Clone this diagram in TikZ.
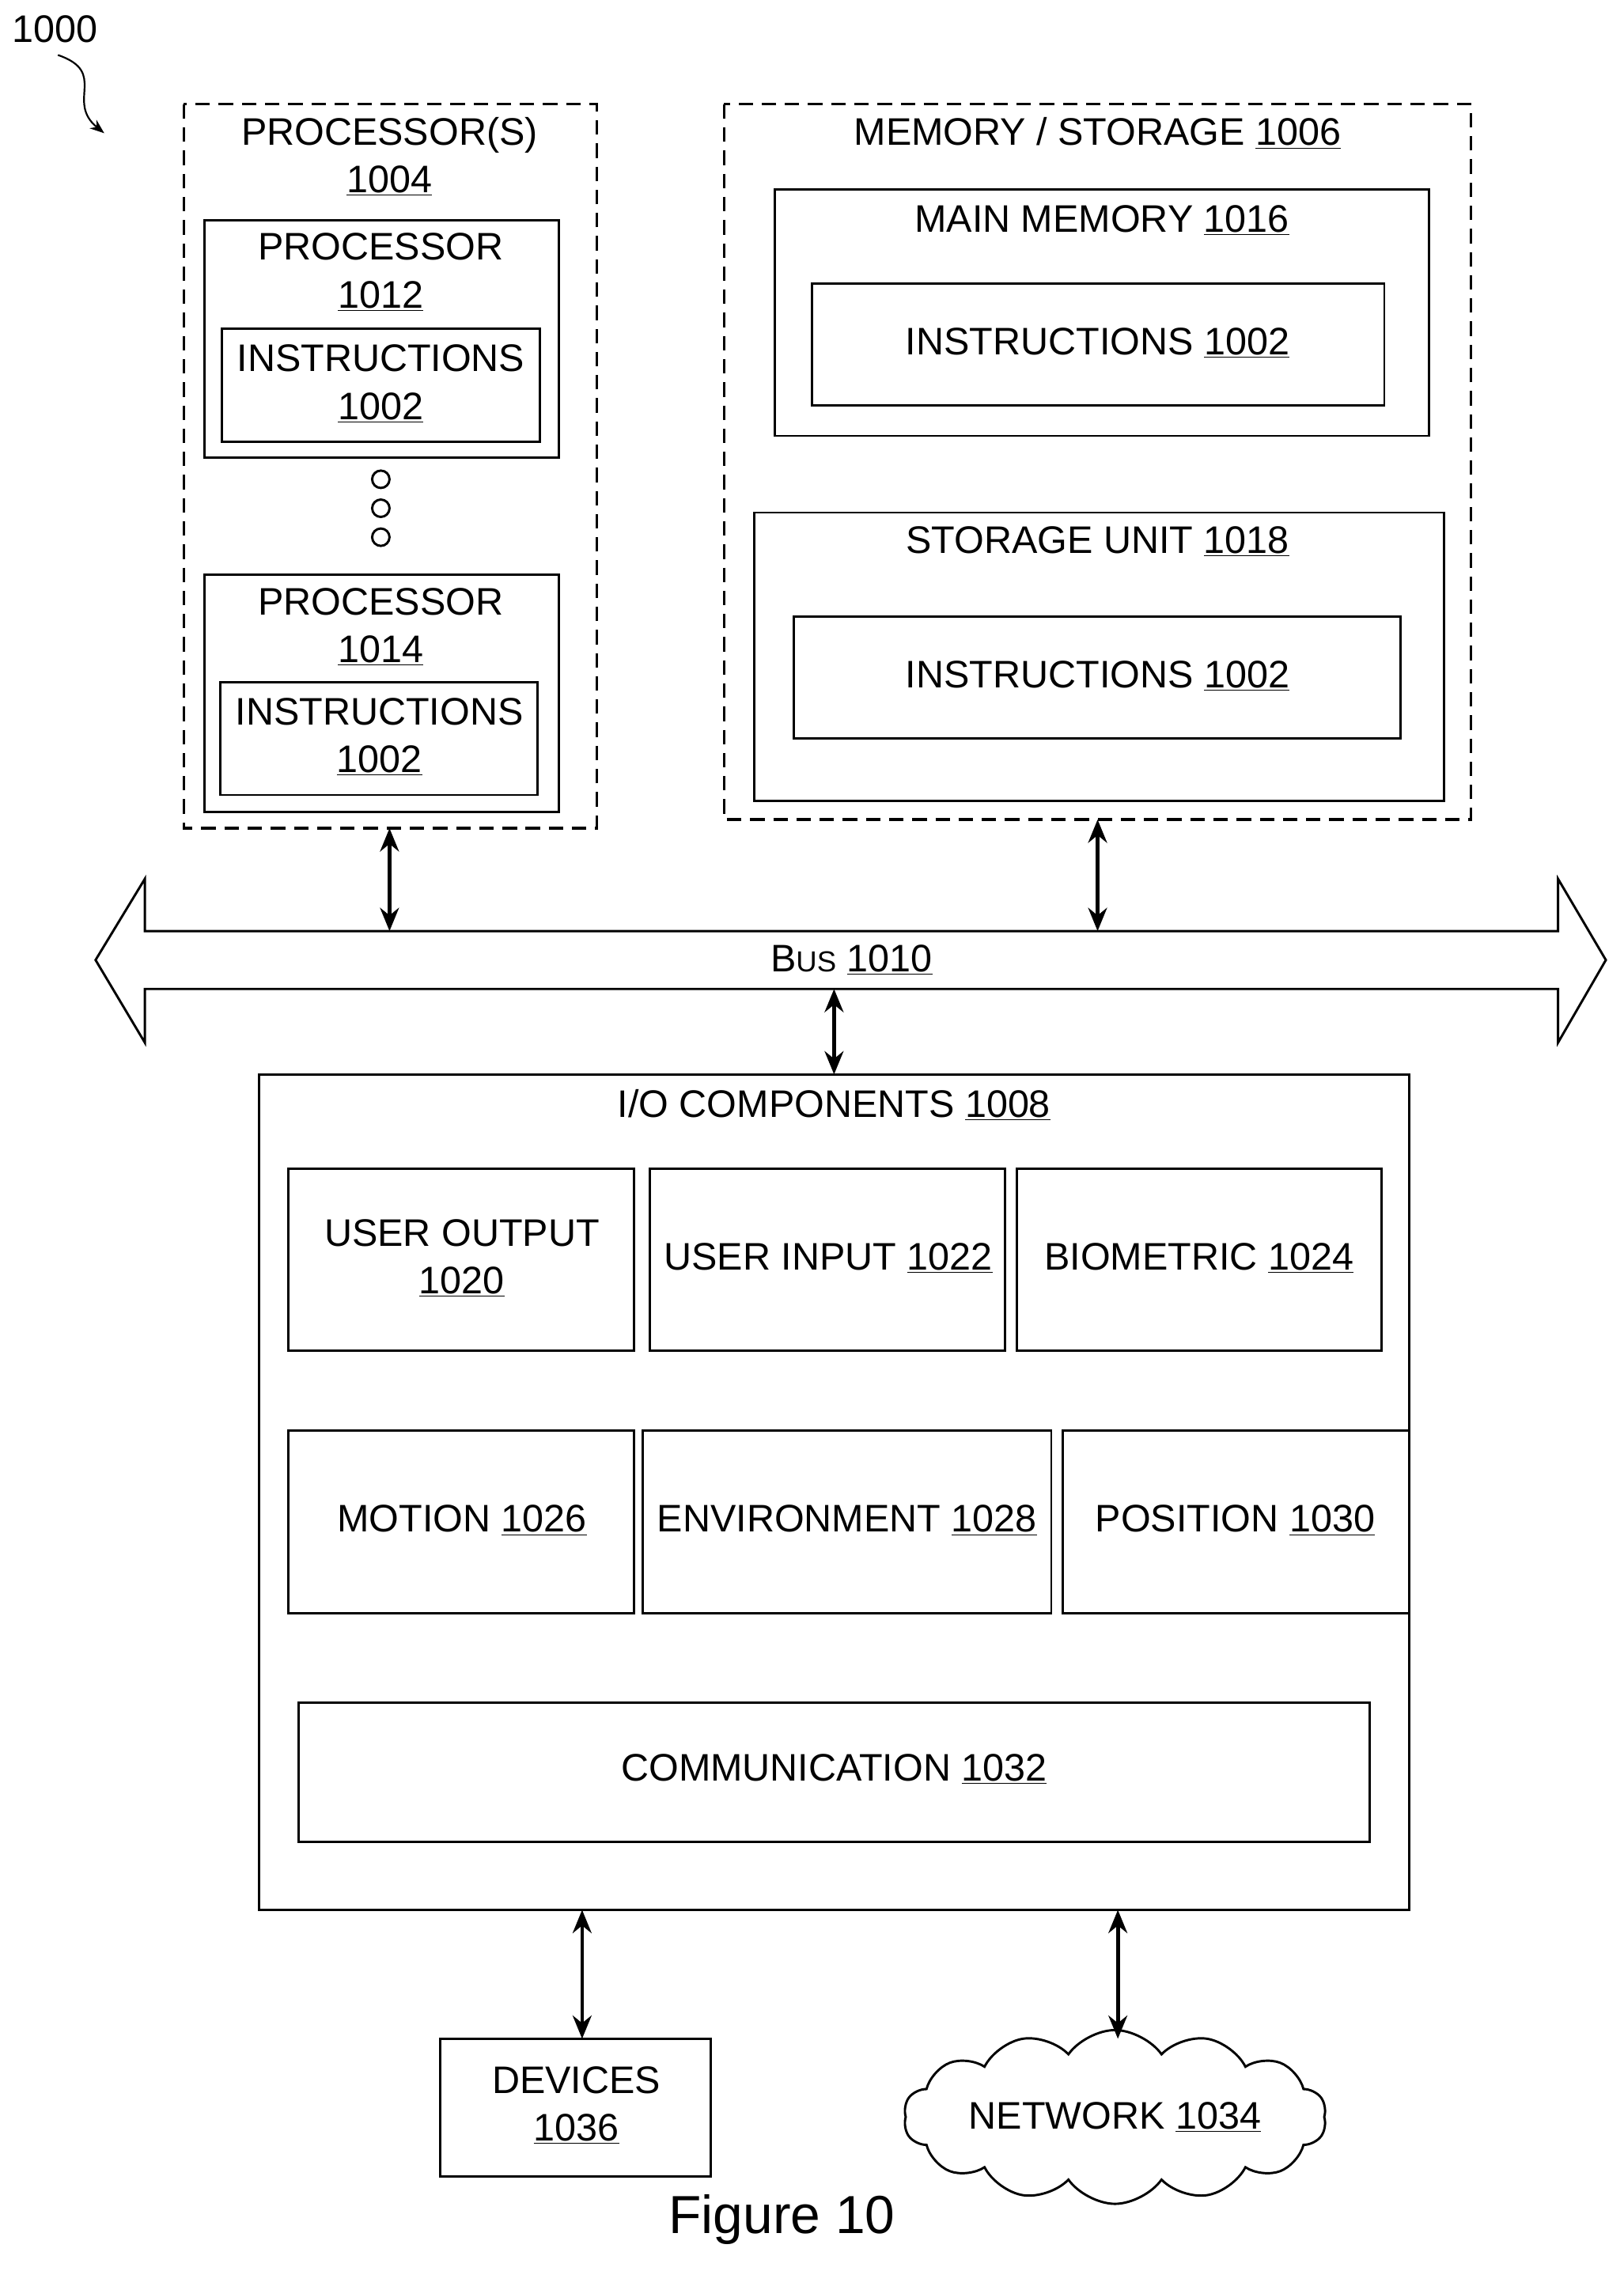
\documentclass[tikz,border=0pt]{standalone}
\usepackage{fontspec}
\setmainfont{Liberation Sans}
\usetikzlibrary{shapes.symbols,arrows.meta,decorations.pathmorphing}
\newcommand{\uln}[1]{\underline{#1}}
\begin{document}
\begin{tikzpicture}[x=1pt,y=-1pt,
  box/.style={draw,line width=1.6pt},
  dbox/.style={draw,line width=1.8pt,dash pattern=on 10pt off 6pt},
  lbl/.style={font=\fontsize{26.5}{33}\selectfont,align=center,inner sep=0},
  dbl/.style={line width=2.6pt,{Stealth[length=16pt,width=13pt]}-{Stealth[length=16pt,width=13pt]}}]
\useasboundingbox (0,0) rectangle (1121,1568.4);
\node[lbl] (n1000) at (38,20) {1000};
\coordinate (s1) at (40,38);
\coordinate (s2) at (72,92);
\draw[line width=1.2pt,-{Stealth[length=10pt]}] (s1) .. controls (75,50) and (45,70) .. (s2);
% processors
\draw[dbox] (127,72) rectangle (412,572);
\node[lbl] (t1004) at (269,108) {PROCESSOR(S)\\\uln{1004}};
\draw[box] (141,152) rectangle (386,316);
\node[lbl] (t1012) at (263,188) {PROCESSOR\\\uln{1012}};
\draw[box] (153,227) rectangle (373,305);
\node[lbl] (ti1) at (263,265) {INSTRUCTIONS\\\uln{1002}};
\foreach \yy in {331,351,371} \draw[line width=1.6pt] (263,\yy) circle (6);
\draw[box] (141,397) rectangle (386,561);
\node[lbl] (t1014) at (263,433) {PROCESSOR\\\uln{1014}};
\draw[box] (152,471) rectangle (371,549);
\node[lbl] (ti2) at (262,509) {INSTRUCTIONS\\\uln{1002}};
% memory
\draw[dbox] (500,72) rectangle (1016,566);
\node[lbl] (t1006) at (758,92) {MEMORY / STORAGE \uln{1006}};
\draw[box] (535,131) rectangle (987,301);
\node[lbl] (t1016) at (761,152) {MAIN MEMORY \uln{1016}};
\draw[box] (561,196) rectangle (956,280);
\node[lbl] (ti3) at (758,237) {INSTRUCTIONS \uln{1002}};
\draw[box] (521,354) rectangle (997,553);
\node[lbl] (t1018) at (758,374) {STORAGE UNIT \uln{1018}};
\draw[box] (548,426) rectangle (967,510);
\node[lbl] (ti4) at (758,467) {INSTRUCTIONS \uln{1002}};
% bus
\draw[line width=1.6pt,fill=white] (66,663) -- (100,607) -- (100,643) -- (1076,643) -- (1076,607) -- (1109,663) -- (1076,720) -- (1076,683) -- (100,683) -- (100,720) -- cycle;
\node[lbl] (bus) at (588,663) {B{\fontsize{20}{20}\selectfont US} \uln{1010}};
\coordinate (p1) at (269,572); \coordinate (p2) at (269,643);
\coordinate (m1) at (758,566); \coordinate (m2) at (758,643);
\coordinate (b1) at (576,683); \coordinate (b2) at (576,742);
\draw[dbl] (p1) -- (p2);
\draw[dbl] (m1) -- (m2);
\draw[dbl] (b1) -- (b2);
% IO
\draw[box] (179,742) rectangle (973,1319);
\node[lbl] (t1008) at (576,763) {I/O COMPONENTS \uln{1008}};
\draw[box] (199,807) rectangle (438,933);
\node[lbl] (t1020) at (319,869) {USER OUTPUT\\\uln{1020}};
\draw[box] (449,807) rectangle (694,933);
\node[lbl] (t1022) at (572,869) {USER INPUT \uln{1022}};
\draw[box] (702,807) rectangle (954,933);
\node[lbl] (t1024) at (828,869) {BIOMETRIC \uln{1024}};
\draw[box] (199,988) rectangle (438,1114);
\node[lbl] (t1026) at (319,1050) {MOTION \uln{1026}};
\draw[box] (444,988) rectangle (726,1114);
\node[lbl] (t1028) at (585,1050) {ENVIRONMENT \uln{1028}};
\draw[box] (734,988) rectangle (973,1114);
\node[lbl] (t1030) at (853,1050) {POSITION \uln{1030}};
\draw[box] (206,1176) rectangle (946,1272);
\node[lbl] (t1032) at (576,1222) {COMMUNICATION \uln{1032}};
% bottom
\draw[box] (304,1408) rectangle (491,1503);
\node[lbl] (t1036) at (398,1454) {DEVICES\\\uln{1036}};
\node[cloud,draw,line width=1.6pt,cloud puffs=14,cloud puff arc=110,aspect=2.6,minimum width=292pt,minimum height=120pt,inner sep=0] (net) at (770,1462) {};
\node[lbl] at (net) {NETWORK \uln{1034}};
\coordinate (d1) at (402,1319); \coordinate (d2) at (402,1408);
\coordinate (e1) at (772,1319); \coordinate (e2) at (772,1408);
\draw[dbl] (d1) -- (d2);
\draw[dbl] (e1) -- (e2);
\node[font=\fontsize{37}{40}\selectfont,inner sep=0] (fig) at (540,1533) {Figure 10};
\end{tikzpicture}
\end{document}
